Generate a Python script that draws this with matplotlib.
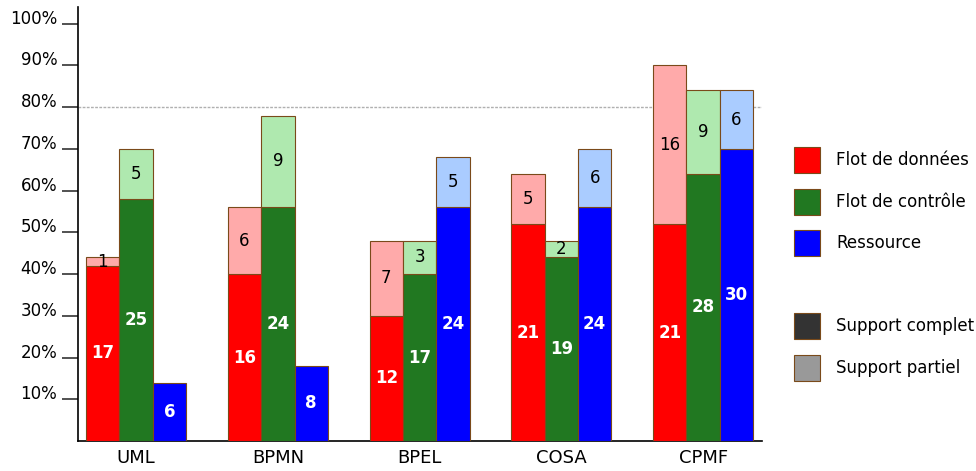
import matplotlib.pyplot as plt
from matplotlib.patches import Rectangle

langages = ["UML", "BPMN", "BPEL", "COSA", "CPMF"]

# pourcentage support complet / support complet + partiel, et nombres affichés
donnees_complet = [42, 40, 30, 52, 52]
donnees_total = [44, 56, 48, 64, 90]
donnees_n_complet = [17, 16, 12, 21, 21]
donnees_n_partiel = [1, 6, 7, 5, 16]

controle_complet = [58, 56, 40, 44, 64]
controle_total = [70, 78, 48, 48, 84]
controle_n_complet = [25, 24, 17, 19, 28]
controle_n_partiel = [5, 9, 3, 2, 9]

ressource_complet = [14, 18, 56, 56, 70]
ressource_total = [14, 18, 68, 70, 84]
ressource_n_complet = [6, 8, 24, 24, 30]
ressource_n_partiel = [0, 0, 5, 6, 6]

yticks = [10, 20, 30, 40, 50, 60, 70, 80, 90, 100]
ytick_labels = ["10%", "20%", "30%", "40%", "50%", "60%", "70%", "80%", "90%", "100%"]

legende_labels = ["Flot de données", "Flot de contrôle", "Ressource",
                  None, "Support complet", "Support partiel"]

series = [
    (donnees_complet, donnees_total, donnees_n_complet, donnees_n_partiel, "#ff0000", "#ffaaaa"),
    (controle_complet, controle_total, controle_n_complet, controle_n_partiel, "#217821", "#afe9af"),
    (ressource_complet, ressource_total, ressource_n_complet, ressource_n_partiel, "#0000ff", "#aaccff"),
]
legende_couleurs = ["#ff0000", "#217821", "#0000ff", None, "#333333", "#999999"]
bord = "#7a4a1a"

fig = plt.figure(figsize=(9.76, 4.71), dpi=100)
ax = fig.add_axes([0.0799, 0.0637, 0.7008, 0.9214])

largeur = 0.235
for k, (complet, total, n_c, n_p, c_fonce, c_clair) in enumerate(series):
    for i in range(len(langages)):
        x = i + (k - 1) * largeur
        partiel = total[i] - complet[i]
        ax.bar(x, complet[i], largeur, color=c_fonce, edgecolor=bord, linewidth=0.8, zorder=3)
        ax.text(x, complet[i] / 2, str(n_c[i]), ha="center", va="center",
                color="white", fontweight="bold", fontsize=12, zorder=4)
        if partiel > 0:
            ax.bar(x, partiel, largeur, bottom=complet[i], color=c_clair,
                   edgecolor=bord, linewidth=0.8, zorder=3)
            ax.text(x, complet[i] + partiel / 2, str(n_p[i]), ha="center", va="center",
                    color="black", fontsize=12, zorder=4)

ax.axhline(80, color="#b0b0b0", linestyle=(0, (2, 1)), linewidth=1, zorder=1)

ax.set_xlim(-0.41, 4.415)
ax.set_ylim(0, 104)
ax.set_xticks(range(len(langages)))
ax.set_xticklabels(langages, fontsize=13)
ax.tick_params(axis="x", length=0, pad=6)
ax.set_yticks(yticks)
ax.set_yticklabels(ytick_labels, fontsize=12, va="baseline")
ax.tick_params(axis="y", length=11.5, width=1.2, color="#333333", pad=3.5)
for s in ["top", "right"]:
    ax.spines[s].set_visible(False)
for s in ["left", "bottom"]:
    ax.spines[s].set_linewidth(1.2)

# légende dessinée à la main
for j, (lab, col) in enumerate(zip(legende_labels, legende_couleurs)):
    if lab is None:
        continue
    yc = 160 + j * 41.6
    fig.add_artist(Rectangle((794 / 976, 1 - (yc + 13) / 471), 26 / 976, 26 / 471,
                             transform=fig.transFigure, facecolor=col,
                             edgecolor=bord, linewidth=0.8))
    fig.text(836 / 976, 1 - yc / 471, lab, fontsize=12, va="center", ha="left")

fig.savefig("out.png", dpi=100)
